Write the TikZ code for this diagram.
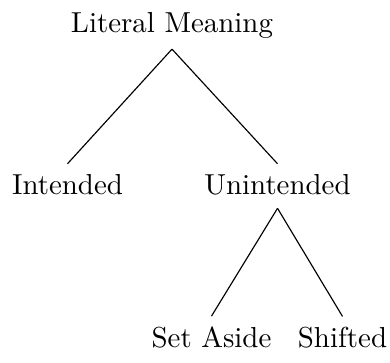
\documentclass[tikz,border=0pt]{standalone}
\begin{document}
\begin{tikzpicture}[x=0.346pt,y=-0.346pt,
  lbl/.style={anchor=base,inner sep=3.33pt},
  edge/.style={draw=black,line width=0.4pt}]
\useasboundingbox (0,0) rectangle (390,362);
\node[lbl] (root) at (172,33) {Literal Meaning};
\node[lbl] (int) at (67.5,194) {Intended};
\node[lbl] (unint) at (277.5,194) {Unintended};
\node[lbl] (set) at (211.5,347) {Set Aside};
\node[lbl] (shift) at (342.5,347) {Shifted};
\draw[edge] (root.south) -- (int.north);
\draw[edge] (root.south) -- (unint.north);
\draw[edge] ([yshift=-1.2pt]unint.south) -- (set.north);
\draw[edge] ([yshift=-1.2pt]unint.south) -- (shift.north);
\end{tikzpicture}
\end{document}
